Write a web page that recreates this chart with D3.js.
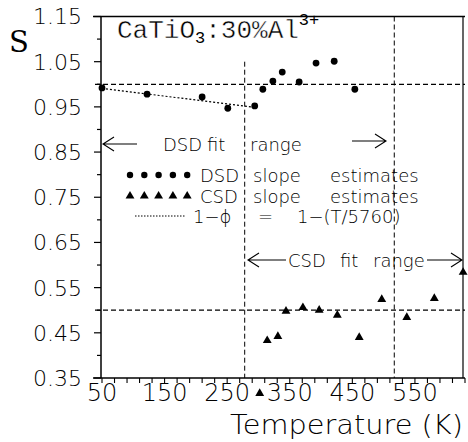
<!DOCTYPE html>
<html>
<head>
<meta charset="utf-8">
<script src="https://cdn.jsdelivr.net/npm/d3@7"></script>
<style>
  body { margin: 0; background: #fff; }
  svg { display: block; }
</style>
</head>
<body>
<div id="canvas"></div>
<script>
"use strict"

// DATA

let dsdT = [50, 122, 210, 251, 294, 307, 323, 338, 365, 392, 421, 454]; // temperature (K)
let dsdS = [0.992, 0.978, 0.972, 0.947, 0.952, 0.989, 1.007, 1.027, 1.005, 1.047, 1.051, 0.989]; // DSD slope estimates

let csdT = [302, 314, 331, 344, 371, 397, 426, 461, 497, 537, 581, 627];
let csdS = [0.316, 0.433, 0.442, 0.498, 0.506, 0.500, 0.489, 0.440, 0.524, 0.484, 0.526, 0.584]; // CSD slope estimates

let fitT = [50, 294]; // 1 - T/5760 drawn over the low temperature points
let fitS = [0.991, 0.949];

let levelS = [1.0, 0.5]; // horizontal dashed levels
let rangeT = [278, 517]; // fit range borders (vertical dashed)

let xTickLabels = [50, 150, 250, 350, 450, 550];
let yTickLabels = [0.35, 0.45, 0.55, 0.65, 0.75, 0.85, 0.95, 1.05, 1.15];

// CANVAS

let svgWidth = 468;
let svgHeight = 442;

let leftX = 101;
let rightX = 465;
let topY = 16.5;
let bottomY = 378;

let svg = d3.select("#canvas")
    .append("svg")
    .attr("width", svgWidth)
    .attr("height", svgHeight);

let xScale = d3.scaleLinear()
    .domain([50, 630])
    .range([102, rightX]);

let yScale = d3.scaleLinear()
    .domain([0.35, 1.15])
    .range([bottomY, topY]);

let sansFont = "'DejaVu Sans', sans-serif";

// FRAME

svg.append("line") // top
    .attr("x1", leftX - 8).attr("y1", topY)
    .attr("x2", rightX).attr("y2", topY)
    .attr("stroke", "black").attr("stroke-width", 1.5);

svg.append("line") // right
    .attr("x1", rightX - 2).attr("y1", topY)
    .attr("x2", rightX - 2).attr("y2", bottomY)
    .attr("stroke", "black").attr("stroke-width", 1.2);

svg.append("line") // left
    .attr("x1", leftX).attr("y1", topY)
    .attr("x2", leftX).attr("y2", bottomY)
    .attr("stroke", "black").attr("stroke-width", 1.5);

svg.append("line") // bottom
    .attr("x1", leftX - 8).attr("y1", bottomY)
    .attr("x2", rightX).attr("y2", bottomY)
    .attr("stroke", "black").attr("stroke-width", 1.5);

// Y AXIS TICKS (major every 0.1, minor between)

let yMinor = d3.range(0, 17).map(function (i) {
    return 0.35 + i * 0.05;
});

svg.selectAll(".ytick")
    .data(yMinor)
    .join("line")
    .attr("class", "ytick")
    .attr("x1", function (value, i) {
        return i % 2 == 0 ? leftX - 7 : leftX - 4;
    })
    .attr("x2", leftX)
    .attr("y1", function (value) { return yScale(value) })
    .attr("y2", function (value) { return yScale(value) })
    .attr("stroke", "black")
    .attr("stroke-width", 1.2);

svg.selectAll(".ylabel")
    .data(yTickLabels)
    .join("text")
    .attr("class", "ylabel")
    .attr("x", 82)
    .attr("y", function (value) { return yScale(value) })
    .attr("dy", "0.36em")
    .style("text-anchor", "end")
    .style("font-family", sansFont)
    .style("font-weight", 200)
    .style("font-size", "22px")
    .text(function (value) { return value.toFixed(2) });

// X AXIS TICKS (every 20 K)

let xMinor = d3.range(50, 631, 20);

svg.selectAll(".xtick")
    .data(xMinor)
    .join("line")
    .attr("class", "xtick")
    .attr("x1", function (value) { return xScale(value) })
    .attr("x2", function (value) { return xScale(value) })
    .attr("y1", bottomY)
    .attr("y2", bottomY + 5)
    .attr("stroke", "black")
    .attr("stroke-width", 1.1);

svg.selectAll(".xlabel")
    .data(xTickLabels)
    .join("text")
    .attr("class", "xlabel")
    .attr("x", function (value) { return xScale(value) })
    .attr("y", 401)
    .style("text-anchor", "middle")
    .style("font-family", sansFont)
    .style("font-weight", 200)
    .style("font-size", "24px")
    .text(function (value) { return value });

// AXIS TITLES

svg.append("text")
    .attr("x", 9)
    .attr("y", 52)
    .style("font-family", "'DejaVu Serif', serif")
    .style("font-size", "29px")
    .text("S");

svg.append("text")
    .attr("x", 230)
    .attr("y", 434)
    .style("font-family", sansFont)
    .style("font-weight", 200)
    .style("font-size", "26px")
    .attr("textLength", 233)
    .attr("lengthAdjust", "spacingAndGlyphs")
    .text("Temperature  (K)");

// TITLE - typewriter look, big letters thinned with a white outline

let title = svg.append("text")
    .attr("x", 117)
    .attr("y", 38)
    .style("font-family", "'Liberation Mono', monospace")
    .style("font-size", "26px");

title.append("tspan").style("stroke", "white").style("stroke-width", 0.45).text("CaTiO");
title.append("tspan").attr("dy", 5).style("font-size", "17px").text("3");
title.append("tspan").attr("dy", -5).style("stroke", "white").style("stroke-width", 0.45).text(":30%Al");
title.append("tspan").attr("dy", -13).style("font-size", "17px").text("3+");

// DASHED REFERENCE LINES

svg.selectAll(".level")
    .data(levelS)
    .join("line")
    .attr("class", "level")
    .attr("x1", leftX - 6)
    .attr("x2", rightX)
    .attr("y1", function (value) { return yScale(value) })
    .attr("y2", function (value) { return yScale(value) })
    .attr("stroke", "black")
    .attr("stroke-width", 1.2)
    .attr("stroke-dasharray", "5 3");

svg.selectAll(".range")
    .data(rangeT)
    .join("line")
    .attr("class", "range")
    .attr("x1", function (value) { return xScale(value) })
    .attr("x2", function (value) { return xScale(value) })
    .attr("y1", function (value, i) { return i == 0 ? yScale(1.05) : topY })
    .attr("y2", bottomY)
    .attr("stroke", "black")
    .attr("stroke-width", 1)
    .attr("stroke-dasharray", "5 3");

// FIT LINE 1 - T/5760

let fitLine = d3.line()
    .x(function (value) { return xScale(value[0]) })
    .y(function (value) { return yScale(value[1]) });

svg.append("path")
    .attr("d", fitLine(d3.zip(fitT, fitS)))
    .attr("fill", "none")
    .attr("stroke", "black")
    .attr("stroke-width", 1.2)
    .attr("stroke-dasharray", "2 2");

// DATA POINTS

svg.selectAll(".dsd")
    .data(d3.zip(dsdT, dsdS))
    .join("circle")
    .attr("class", "dsd")
    .attr("cx", function (value) { return xScale(value[0]) })
    .attr("cy", function (value) { return yScale(value[1]) })
    .attr("r", 3.4)
    .attr("fill", "black");

let triangle = d3.symbol(d3.symbolTriangle, 34);

svg.selectAll(".csd")
    .data(d3.zip(csdT, csdS))
    .join("path")
    .attr("class", "csd")
    .attr("d", triangle)
    .attr("transform", function (value) {
        return "translate(" + xScale(value[0]) + "," + yScale(value[1]) + ")";
    })
    .attr("fill", "black");

// FIT RANGE ARROWS

function arrow(x1, x2, y) {
    // line with an open chevron at x2
    let dir = x2 > x1 ? -1 : 1;
    svg.append("path")
        .attr("d", "M" + x1 + "," + y + "L" + x2 + "," + y +
            "M" + (x2 + dir * 11) + "," + (y - 7) + "L" + x2 + "," + y + "L" + (x2 + dir * 11) + "," + (y + 7))
        .attr("fill", "none")
        .attr("stroke", "black")
        .attr("stroke-width", 1.1);
}

function words(list, y) {
    for (let i = 0; i < list.length; i++) {
        svg.append("text")
            .attr("x", list[i][1])
            .attr("y", y)
            .style("font-family", sansFont)
            .style("font-weight", 200)
            .style("font-size", "18px")
            .text(list[i][0]);
    }
}

arrow(137, 103, 144);
words([["DSD", 163], ["fit", 207], ["range", 250]], 151);
arrow(352, 386, 141);

arrow(286, 248, 260);
words([["CSD", 288], ["fit", 340], ["range", 373]], 267);
arrow(427, 462, 260);

// LEGEND

let legendX = d3.range(5).map(function (i) { return 130 + i * 14.3 });

svg.selectAll(".legdot")
    .data(legendX)
    .join("circle")
    .attr("class", "legdot")
    .attr("cx", function (value) { return value })
    .attr("cy", 175)
    .attr("r", 3.2)
    .attr("fill", "black");

svg.selectAll(".legtri")
    .data(legendX)
    .join("path")
    .attr("class", "legtri")
    .attr("d", triangle)
    .attr("transform", function (value) { return "translate(" + value + ",196)" })
    .attr("fill", "black");

svg.append("line")
    .attr("x1", 135).attr("x2", 185)
    .attr("y1", 216).attr("y2", 216)
    .attr("stroke", "black")
    .attr("stroke-width", 1)
    .attr("stroke-dasharray", "1.5 1.5");

words([["DSD", 200], ["slope", 253], ["estimates", 330]], 182);
words([["CSD", 200], ["slope", 253], ["estimates", 330]], 203);
words([["1\u2212\u03d5", 193], ["=", 258], ["1\u2212(T/5760)", 297]], 223);
</script>
</body>
</html>
